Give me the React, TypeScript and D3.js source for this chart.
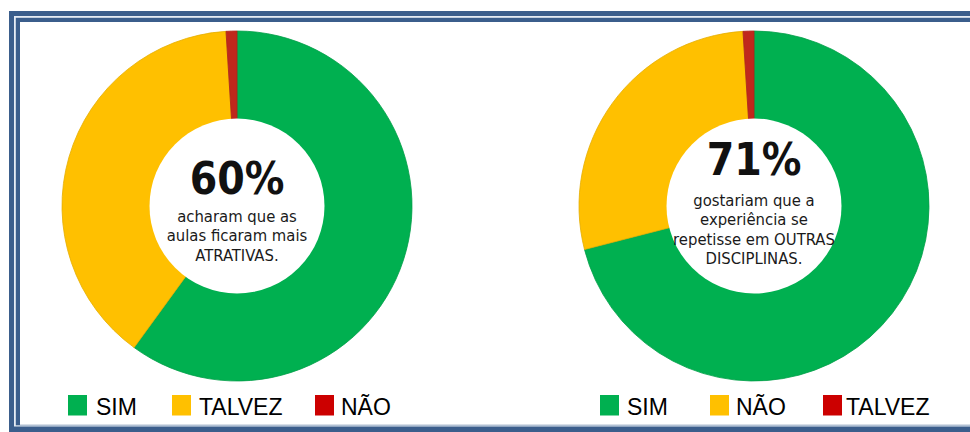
import React from "react";
import * as d3 from "d3";

const leftCategories = ["SIM", "TALVEZ", "NÃO"];
const leftValues = [60, 39, 1];
const leftColors = ["#00B050", "#FFC000", "#C0281C"];
const leftLegendColors = ["#00B050", "#FFC000", "#CC0000"];
const leftHeadline = "60%";
const leftLines = ["acharam que as", "aulas ficaram mais", "ATRATIVAS."];

const rightCategories = ["SIM", "NÃO", "TALVEZ"];
const rightValues = [71, 28, 1];
const rightColors = ["#00B050", "#FFC000", "#C0281C"];
const rightLegendColors = ["#00B050", "#FFC000", "#CC0000"];
const rightHeadline = "71%";
const rightLines = ["gostariam que a", "experiência se", "repetisse em OUTRAS", "DISCIPLINAS."];

const W = 970;
const H = 432;
const BLUE = "#3B5E8C";
const centerFont = "'DejaVu Sans Condensed', 'DejaVu Sans', sans-serif";

function Donut({ cx, cy, values, colors, headline, lines, headBaseline, lineBaselines }: any) {
  const R = 175;
  const r = 87.5;
  const pie = d3.pie<number>().sort(null).value((d) => d);
  const arc = d3.arc<d3.PieArcDatum<number>>().innerRadius(0).outerRadius(R);
  const arcs = pie(values);
  return (
    <g transform={`translate(${cx},${cy})`}>
      {arcs.map((a, i) => (
        <path key={i} d={arc(a) || ""} fill={colors[i]} stroke={d3.color(colors[i])!.darker(0.3).toString()} strokeWidth={0.8} />
      ))}
      <circle r={r} fill="#ffffff" />
      <text
        x={0}
        y={headBaseline}
        textAnchor="middle"
        fontFamily={centerFont}
        style={{ fontStretch: "condensed" }}
        fontWeight="bold"
        fontSize={44}
        fill="#111"
      >
        {headline}
      </text>
      {lines.map((l: string, i: number) => (
        <text
          key={i}
          x={0}
          y={lineBaselines[i]}
          textAnchor="middle"
          fontFamily={centerFont}
          style={{ fontStretch: "condensed" }}
          fontSize={16.5}
          fill="#1a1a1a"
        >
          {l}
        </text>
      ))}
    </g>
  );
}

function Legend({ items, colors, squareXs, textXs }: any) {
  return (
    <g>
      {items.map((it: string, i: number) => (
        <g key={i}>
          <rect x={squareXs[i]} y={395} width={19} height={20.5} fill={colors[i]} />
          <text x={textXs[i]} y={414.5} fontFamily="'Liberation Sans', Arial, sans-serif" fontSize={23} fill="#000">
            {it}
          </text>
        </g>
      ))}
    </g>
  );
}

export default function App() {
  return (
    <svg width={W} height={H} style={{ position: "absolute", left: 0, top: 0 }}>
      <rect x={0} y={0} width={W} height={H} fill="#ffffff" />
      <rect x={9} y={11} width={1000} height={500} fill={BLUE} />
      <rect x={14} y={16} width={1000} height={410.5} fill="#E6ECF4" />
      <rect x={15.8} y={17.8} width={1000} height={407.5} fill={BLUE} />
      <rect x={20} y={22} width={1000} height={402.8} fill="#ffffff" />

      <Donut
        cx={237}
        cy={206}
        values={leftValues}
        colors={leftColors}
        headline={leftHeadline}
        lines={leftLines}
        headBaseline={-12}
        lineBaselines={[15.5, 35, 54.5]}
      />
      <Donut
        cx={754}
        cy={206}
        values={rightValues}
        colors={rightColors}
        headline={rightHeadline}
        lines={rightLines}
        headBaseline={-31}
        lineBaselines={[-0.5, 19, 38.5, 58]}
      />

      <Legend items={leftCategories} colors={leftLegendColors} squareXs={[68, 172, 315]} textXs={[96, 199, 341]} />
      <Legend items={rightCategories} colors={rightLegendColors} squareXs={[600, 710, 823]} textXs={[627, 736, 846]} />
    </svg>
  );
}
